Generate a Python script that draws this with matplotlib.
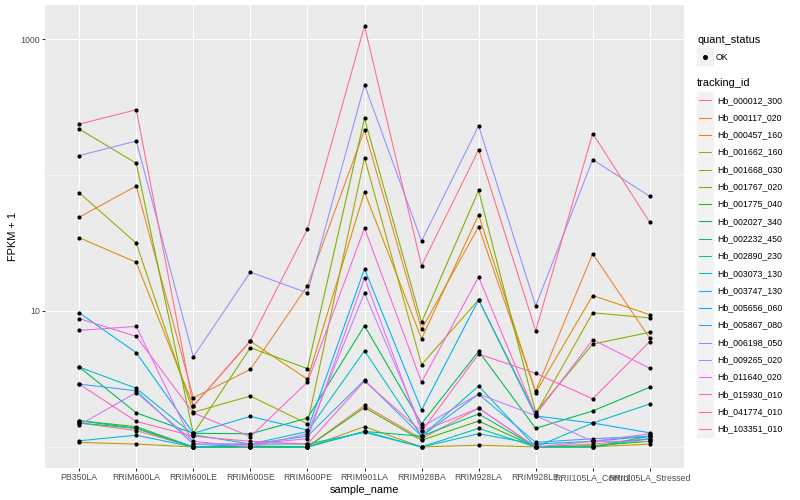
import numpy as np
import matplotlib as mpl
import matplotlib.pyplot as plt
from matplotlib.patches import Rectangle
from matplotlib.lines import Line2D
from matplotlib.ticker import NullFormatter, FixedFormatter

mpl.rcParams["font.family"] = ["Liberation Sans", "DejaVu Sans"]

# ── data (FPKM + 1) ───────────────────────────────────────────────
samples = ["PB350LA", "RRIM600LA", "RRIM600LE", "RRIM600SE", "RRIM600PE",
           "RRIM901LA", "RRIM928BA", "RRIM928LA", "RRIM928LE",
           "RRII105LA_Control", "RRII105LA_Stressed"]

tracking_ids = ["Hb_000012_300", "Hb_000117_020", "Hb_000457_160",
                "Hb_001662_160", "Hb_001668_030", "Hb_001767_020",
                "Hb_001775_040", "Hb_002027_340", "Hb_002232_450",
                "Hb_002890_230", "Hb_003073_130", "Hb_003747_130",
                "Hb_005656_060", "Hb_005867_080", "Hb_006198_050",
                "Hb_009265_020", "Hb_011640_020", "Hb_015930_010",
                "Hb_041774_010", "Hb_103351_010"]

# ggplot2 default hue palette for 20 levels
hue_colors = ["#F8766D", "#EA8331", "#D89000", "#C09B00", "#A3A500",
              "#7CAE00", "#39B600", "#00BB4E", "#00BF7D", "#00C1A3",
              "#00BFC4", "#00BAE0", "#00B0F6", "#35A2FF", "#9590FF",
              "#C77CFF", "#E76BF3", "#FA62DB", "#FF62BC", "#FF6C90"]

y_breaks = [10, 1000]
y_labels = ["10", "1000"]
y_minor = [1, 100]

hb_000012_300 = [1.50, 1.32, 1.00, 1.02, 1.00, 2.02, 1.15, 1.93, 1.00, 1.05, 1.15]
hb_000117_020 = [49.0, 83.0, 2.30, 3.72, 15.3, 214, 7.33, 41.7, 2.57, 26.4, 6.30]
hb_000457_160 = [34.6, 22.8, 2.00, 6.00, 3.15, 75.0, 6.25, 51.0, 2.51, 13.0, 9.40]
hb_001662_160 = [1.08, 1.05, 1.00, 1.00, 1.00, 1.41, 1.00, 1.03, 1.00, 1.00, 1.05]
hb_001668_030 = [74.0, 31.5, 1.80, 2.37, 1.48, 134, 4.03, 12.1, 1.75, 9.70, 8.90]
hb_001767_020 = [218, 122, 1.25, 5.37, 3.77, 261, 8.26, 77.0, 1.80, 5.71, 6.97]
hb_001775_040 = [1.56, 1.41, 1.00, 1.00, 1.00, 1.95, 1.12, 1.55, 1.00, 1.02, 1.10]
hb_002027_340 = [3.87, 1.78, 1.26, 1.25, 1.63, 7.80, 1.48, 5.06, 1.37, 1.84, 2.75]
hb_002232_450 = [1.56, 1.37, 1.00, 1.00, 1.00, 1.30, 1.20, 1.75, 1.00, 1.00, 1.20]
hb_002890_230 = [1.50, 1.37, 1.00, 1.00, 1.00, 1.30, 1.00, 1.37, 1.00, 1.00, 1.15]
hb_003073_130 = [3.87, 2.70, 1.23, 1.05, 1.30, 5.10, 1.20, 2.81, 1.00, 1.50, 2.07]
hb_003747_130 = [1.11, 1.22, 1.00, 1.05, 1.05, 1.28, 1.00, 1.25, 1.05, 1.10, 1.20]
hb_005656_060 = [9.70, 4.93, 1.26, 1.68, 1.33, 20.4, 1.87, 12.1, 1.69, 1.50, 1.27]
hb_005867_080 = [2.90, 2.59, 1.05, 1.05, 1.20, 3.10, 1.20, 2.45, 1.08, 1.15, 1.20]
hb_006198_050 = [139, 178, 4.61, 19.3, 13.6, 461, 32.7, 230, 10.9, 130, 69.7]
hb_009265_020 = [1.45, 2.51, 1.10, 1.00, 1.25, 13.6, 1.40, 2.45, 1.70, 1.10, 1.10]
hb_011640_020 = [7.20, 7.70, 1.05, 1.05, 1.15, 17.5, 1.30, 1.93, 1.00, 1.10, 1.25]
hb_015930_010 = [8.80, 6.50, 1.78, 1.19, 3.00, 40.7, 3.00, 17.8, 1.72, 6.15, 3.79]
hb_041774_010 = [2.90, 1.54, 1.20, 1.10, 1.05, 3.05, 1.30, 4.83, 3.48, 2.26, 5.96]
hb_103351_010 = [237, 302, 2.00, 6.05, 40.0, 1247, 21.5, 153, 7.16, 202, 44.9]

series = [hb_000012_300, hb_000117_020, hb_000457_160, hb_001662_160,
          hb_001668_030, hb_001767_020, hb_001775_040, hb_002027_340,
          hb_002232_450, hb_002890_230, hb_003073_130, hb_003747_130,
          hb_005656_060, hb_005867_080, hb_006198_050, hb_009265_020,
          hb_011640_020, hb_015930_010, hb_041774_010, hb_103351_010]

# ── figure (800x500 px; ggplot sizes are px at 72 dpi -> pt * 0.72) ─
W, H = 800, 500
PX = 0.72
fig = plt.figure(figsize=(W / 100, H / 100), dpi=100)
ax = fig.add_axes([45 / W, 32 / H, 639 / W, 463 / H])
ax.set_facecolor("#EBEBEB")
for s in ax.spines.values():
    s.set_visible(False)

x = np.arange(len(samples))
for vals, col in zip(series, hue_colors):
    ax.plot(x, vals, color=col, lw=1.07 * PX, zorder=2)
for vals in series:
    ax.scatter(x, vals, s=9, color="black", zorder=3, linewidths=0)

ax.set_yscale("log")
lo = np.log10(min(min(v) for v in series))
hi = np.log10(max(max(v) for v in series))
pad = 0.05 * (hi - lo)
ax.set_ylim(10 ** (lo - pad), 10 ** (hi + pad))
ax.set_xlim(-0.6, len(samples) - 0.4)

ax.set_yticks(y_breaks)
ax.yaxis.set_major_formatter(FixedFormatter(y_labels))
ax.set_yticks(y_minor, minor=True)
ax.yaxis.set_minor_formatter(NullFormatter())
ax.set_xticks(x)
ax.set_xticklabels(samples)
ax.tick_params(which="major", length=2.75 * PX, width=1.07 * PX,
               color="#333333", labelcolor="#4D4D4D",
               labelsize=8.8 * PX, pad=2.2 * PX)
ax.tick_params(which="minor", length=0)
ax.grid(which="major", color="white", lw=1.07 * PX)
ax.grid(which="minor", axis="y", color="white", lw=0.53 * PX)
ax.set_axisbelow(True)

ax.set_xlabel("sample_name", fontsize=11 * PX, labelpad=2)
ax.set_ylabel("FPKM + 1", fontsize=11 * PX, labelpad=2)


# ── legends drawn by hand, ggplot style ───────────────────────────
def fx(px):
    return px / W


def fy(py):
    return 1 - py / H


fig.text(fx(697), fy(40), "quant_status", fontsize=11 * PX,
         va="center", ha="left")
fig.patches.append(Rectangle((fx(697), fy(65)), fx(16), 17 / H,
                             transform=fig.transFigure, color="#F2F2F2"))
fig.lines.append(Line2D([fx(705)], [fy(57)], marker="o", ms=2.6,
                        color="black", transform=fig.transFigure))
fig.text(fx(716), fy(57), "OK", fontsize=8.8 * PX, va="center", ha="left")

fig.text(fx(697), fy(83), "tracking_id", fontsize=11 * PX,
         va="center", ha="left")
step = 17.3
for i, (tid, col) in enumerate(zip(tracking_ids, hue_colors)):
    yc = 100.3 + i * step
    fig.patches.append(Rectangle((fx(697), fy(yc + 8)), fx(16), 16.3 / H,
                                 transform=fig.transFigure, color="#F2F2F2"))
    fig.lines.append(Line2D([fx(699), fx(711)], [fy(yc), fy(yc)],
                            color=col, lw=1.07 * PX,
                            transform=fig.transFigure))
    fig.text(fx(717), fy(yc), tid, fontsize=8.8 * PX, va="center", ha="left")

fig.savefig("out.png", dpi=100)
